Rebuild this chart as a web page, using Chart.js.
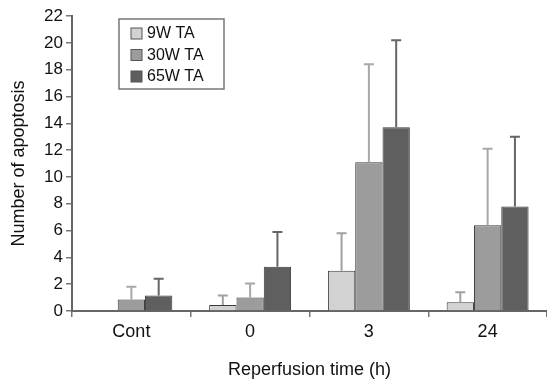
<!DOCTYPE html>
<html>
<head>
<meta charset="utf-8">
<script src="https://cdn.jsdelivr.net/npm/chart.js@4.4.1/dist/chart.umd.min.js"></script>
<style>
  html, body { margin: 0; padding: 0; background: #fff; }
  #wrap { width: 547px; height: 383px; }
</style>
</head>
<body>
<div id="wrap"><canvas id="apoptosisChart"></canvas></div>
<script>
var categories = ["Cont", "0", "3", "24"];
var seriesLabels = ["9W TA", "30W TA", "65W TA"];
var mean9W = [0, 0.45, 3.0, 0.65];
var mean30W = [0.85, 1.0, 11.1, 6.4];
var mean65W = [1.15, 3.3, 13.7, 7.8];
var err9W = [0, 0.7, 2.8, 0.75];
var err30W = [0.95, 1.05, 7.3, 5.7];
var err65W = [1.25, 2.6, 6.5, 5.2];
var fills = ["#d2d2d2", "#9c9c9c", "#5f5f5f"];
var whiskerColors = ["#a0a0a0", "#a8a8a8", "#666666"];

Chart.defaults.font.family = "'Liberation Sans', Arial, sans-serif";
Chart.defaults.color = "#111";

// upward error bars with a cap
var errorBars = {
  id: "errorBars",
  afterDatasetsDraw: function (chart) {
    var ctx = chart.ctx;
    var yScale = chart.scales.y;
    var errs = [err9W, err30W, err65W];
    chart.data.datasets.forEach(function (ds, i) {
      var meta = chart.getDatasetMeta(i);
      meta.data.forEach(function (bar, j) {
        var e = errs[i][j];
        if (!e) return;
        var x = bar.x;
        var top = yScale.getPixelForValue(ds.data[j] + e);
        ctx.save();
        ctx.strokeStyle = whiskerColors[i];
        ctx.lineWidth = 2;
        ctx.beginPath();
        ctx.moveTo(x, bar.y);
        ctx.lineTo(x, top);
        ctx.moveTo(x - 5, top);
        ctx.lineTo(x + 5, top);
        ctx.stroke();
        ctx.restore();
      });
    });
  }
};

// boxed legend inside the plot
var boxLegend = {
  id: "boxLegend",
  afterDraw: function (chart) {
    var ctx = chart.ctx;
    var a = chart.chartArea;
    var x0 = a.left + 47, y0 = a.top + 3;
    ctx.save();
    ctx.strokeStyle = "#777";
    ctx.lineWidth = 1.5;
    ctx.strokeRect(x0, y0, 105, 70);
    ctx.font = "16px 'Liberation Sans', Arial, sans-serif";
    ctx.textBaseline = "middle";
    chart.data.datasets.forEach(function (ds, i) {
      var cy = y0 + 14 + i * 21.5;
      ctx.fillStyle = ds.backgroundColor;
      ctx.fillRect(x0 + 12, cy - 5, 11, 11);
      ctx.strokeStyle = "#555";
      ctx.lineWidth = 1;
      ctx.strokeRect(x0 + 12, cy - 5, 11, 11);
      ctx.fillStyle = "#111";
      ctx.fillText(ds.label, x0 + 28, cy + 1);
    });
    ctx.restore();
  }
};

var datasets = [mean9W, mean30W, mean65W].map(function (d, i) {
  return {
    label: seriesLabels[i],
    data: d,
    backgroundColor: fills[i],
    borderColor: "#3a3a3a",
    borderWidth: 1,
    barPercentage: 1,
    categoryPercentage: 0.69
  };
});

new Chart(document.getElementById("apoptosisChart").getContext("2d"), {
  type: "bar",
  data: { labels: categories, datasets: datasets },
  options: {
    responsive: true,
    maintainAspectRatio: false,
    animation: false,
    layout: { padding: { top: 16, right: 0, left: 0, bottom: 0 } },
    plugins: {
      legend: { display: false },
      tooltip: { enabled: false }
    },
    scales: {
      x: {
        grid: {
          display: true,
          offset: true,
          drawOnChartArea: false,
          drawTicks: true,
          tickLength: 6,
          color: "#777",
          lineWidth: 1.5
        },
        border: { display: true, color: "#666", width: 2 },
        ticks: { font: { size: 18 }, padding: 4, color: "#111" },
        title: {
          display: true,
          text: "Reperfusion time (h)",
          font: { size: 18 },
          color: "#111",
          padding: { top: 8, bottom: 2 }
        },
        afterFit: function (s) { s.height = 72; }
      },
      y: {
        min: 0,
        max: 22,
        ticks: { stepSize: 2, font: { size: 17 }, padding: 3, color: "#111" },
        grid: {
          display: true,
          drawOnChartArea: false,
          drawTicks: true,
          tickLength: 6,
          color: "#777",
          lineWidth: 1.5
        },
        border: { display: true, color: "#666", width: 2 },
        title: {
          display: true,
          text: "Number of apoptosis",
          font: { size: 18 },
          color: "#111",
          padding: { top: 8, bottom: 2 }
        },
        afterFit: function (s) { s.width = 72; }
      }
    }
  },
  plugins: [errorBars, boxLegend]
});
</script>
</body>
</html>
